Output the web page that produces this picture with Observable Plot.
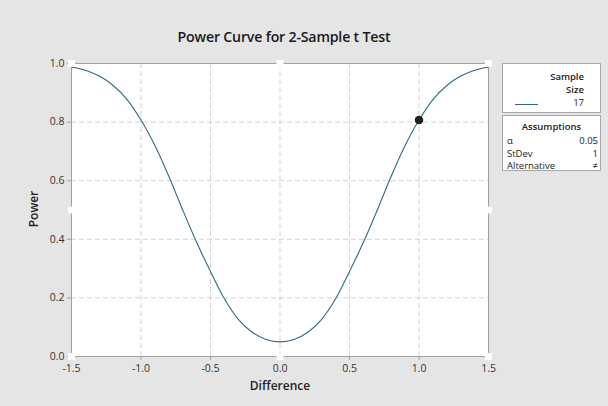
<!DOCTYPE html>
<html>
<head>
<meta charset="utf-8">
<script src="https://cdn.jsdelivr.net/npm/d3@7"></script>
<script src="https://cdn.jsdelivr.net/npm/@observablehq/plot@0.6"></script>
<style>
  html, body { margin: 0; padding: 0; background: #e5e5e5; }
  #wrap { position: relative; width: 608px; height: 406px; background: #e5e5e5; font-family: "Open Sans", "Noto Sans", sans-serif; color: #222; overflow: hidden; }
  #wrap svg { position: absolute; left: 0; top: 0; }
  .abs { position: absolute; white-space: nowrap; }
  .box { position: absolute; background: #fff; border: 1px solid #a8a8a8; box-sizing: border-box; font-size: 9.5px; color: #222; }
</style>
</head>
<body>
<div id="wrap"></div>
<script>
// ---- data ----
const difference = [-1.5, -1.4, -1.3, -1.2, -1.1, -1.0, -0.9, -0.8, -0.7, -0.6, -0.5, -0.4, -0.3, -0.2, -0.1,
                    0.0, 0.1, 0.2, 0.3, 0.4, 0.5, 0.6, 0.7, 0.8, 0.9, 1.0, 1.1, 1.2, 1.3, 1.4, 1.5];
const power = [0.988, 0.977, 0.957, 0.925, 0.877, 0.807, 0.72, 0.615, 0.50, 0.39, 0.29, 0.197, 0.127, 0.083, 0.058,
               0.050, 0.058, 0.083, 0.127, 0.197, 0.29, 0.39, 0.50, 0.615, 0.72, 0.807, 0.877, 0.925, 0.957, 0.977, 0.988];
const pointDiff = [1.0];
const pointPower = [0.807];
const xTicks = [-1.5, -1.0, -0.5, 0.0, 0.5, 1.0, 1.5];
const yTicks = [0.0, 0.2, 0.4, 0.6, 0.8, 1.0];
const xGrid = [-1.0, -0.5, 0.0, 0.5, 1.0];
const yGrid = [0.2, 0.4, 0.6, 0.8];
const handleX = [-1.5, 0, 1.5, -1.5, 1.5, -1.5, 0, 1.5];
const handleY = [1, 1, 1, 0.5, 0.5, 0, 0, 0];
const sampleSize = "17";
const assumptionNames = ["α", "StDev", "Alternative"];
const assumptionValues = ["0.05", "1", "≠"];

const curve = difference.map((d, i) => ({d, p: power[i]}));
const pts = pointDiff.map((d, i) => ({d, p: pointPower[i]}));
const handles = handleX.map((x, i) => ({x, y: handleY[i]}));

const fmt = v => v.toFixed(1);

const chart = Plot.plot({
  width: 608,
  height: 406,
  marginLeft: 71,
  marginRight: 120,
  marginTop: 63,
  marginBottom: 50,
  style: {background: "transparent", fontFamily: "'Open Sans', sans-serif", fontSize: "10.5px", color: "#333"},
  x: {domain: [-1.5, 1.5]},
  y: {domain: [0, 1]},
  marks: [
    Plot.frame({fill: "#fff", stroke: "none"}),
    Plot.gridX(xGrid, {stroke: "#d2d2d2", strokeOpacity: 1, strokeDasharray: "5,3"}),
    Plot.gridY(yGrid, {stroke: "#d2d2d2", strokeOpacity: 1, strokeDasharray: "5,3"}),
    Plot.frame({stroke: "#a0a0a0"}),
    Plot.axisX({ticks: xTicks, tickFormat: fmt, tickSize: 4, tickPadding: 4, stroke: "#a0a0a0", label: null, fill: "#333"}),
    Plot.axisY({ticks: yTicks, tickFormat: fmt, tickSize: 4, tickPadding: 3, stroke: "#a0a0a0", label: null, fill: "#333"}),
    Plot.line(curve, {x: "d", y: "p", stroke: "#2e6a86", strokeWidth: 1.1, curve: "catmull-rom"}),
    Plot.dot(pts, {x: "d", y: "p", r: 3.5, fill: "#222", stroke: "#222"}),
    Plot.dot(handles, {x: "x", y: "y", symbol: "square", r: 3.9, fill: "#fff", stroke: "none"})
  ]
});

const wrap = document.getElementById("wrap");
wrap.appendChild(chart);

function addText(txt, css) {
  const el = document.createElement("div");
  el.className = "abs";
  el.textContent = txt;
  Object.assign(el.style, css);
  wrap.appendChild(el);
  return el;
}

// title
addText("Power Curve for 2-Sample t Test", {left: "0px", width: "568px", top: "27px", textAlign: "center", fontSize: "14.2px", fontWeight: "600", letterSpacing: "-0.2px", color: "#1a1a1a"});
// axis labels
addText("Difference", {left: "180px", width: "200px", top: "377px", textAlign: "center", fontSize: "12px", fontWeight: "600", color: "#222"});
addText("Power", {left: "33px", top: "209px", fontSize: "12px", fontWeight: "600", color: "#222", transform: "translate(-50%,-50%) rotate(-90deg)"});

// legend box 1
const box1 = document.createElement("div");
box1.className = "box";
Object.assign(box1.style, {left: "502px", top: "63px", width: "99px", height: "50px"});
wrap.appendChild(box1);
function boxText(box, txt, css) {
  const el = document.createElement("div");
  el.className = "abs";
  el.textContent = txt;
  Object.assign(el.style, css);
  box.appendChild(el);
  return el;
}
boxText(box1, "Sample", {right: "16px", top: "6px", fontWeight: "600"});
boxText(box1, "Size", {right: "16px", top: "19px", fontWeight: "600"});
boxText(box1, sampleSize, {right: "16px", top: "32px"});
const sw = document.createElement("div");
Object.assign(sw.style, {position: "absolute", left: "12px", top: "40px", width: "23px", height: "0px", borderTop: "1.2px solid #2e6a86"});
box1.appendChild(sw);

// legend box 2
const box2 = document.createElement("div");
box2.className = "box";
Object.assign(box2.style, {left: "502px", top: "115px", width: "99px", height: "56px"});
wrap.appendChild(box2);
boxText(box2, "Assumptions", {left: "0px", width: "97px", textAlign: "center", top: "4px", fontWeight: "600"});
assumptionNames.forEach((n, i) => {
  boxText(box2, n, {left: "4px", top: (18 + i * 12.5) + "px"});
  boxText(box2, assumptionValues[i], {right: "2px", top: (18 + i * 12.5) + "px"});
});
</script>
</body>
</html>
